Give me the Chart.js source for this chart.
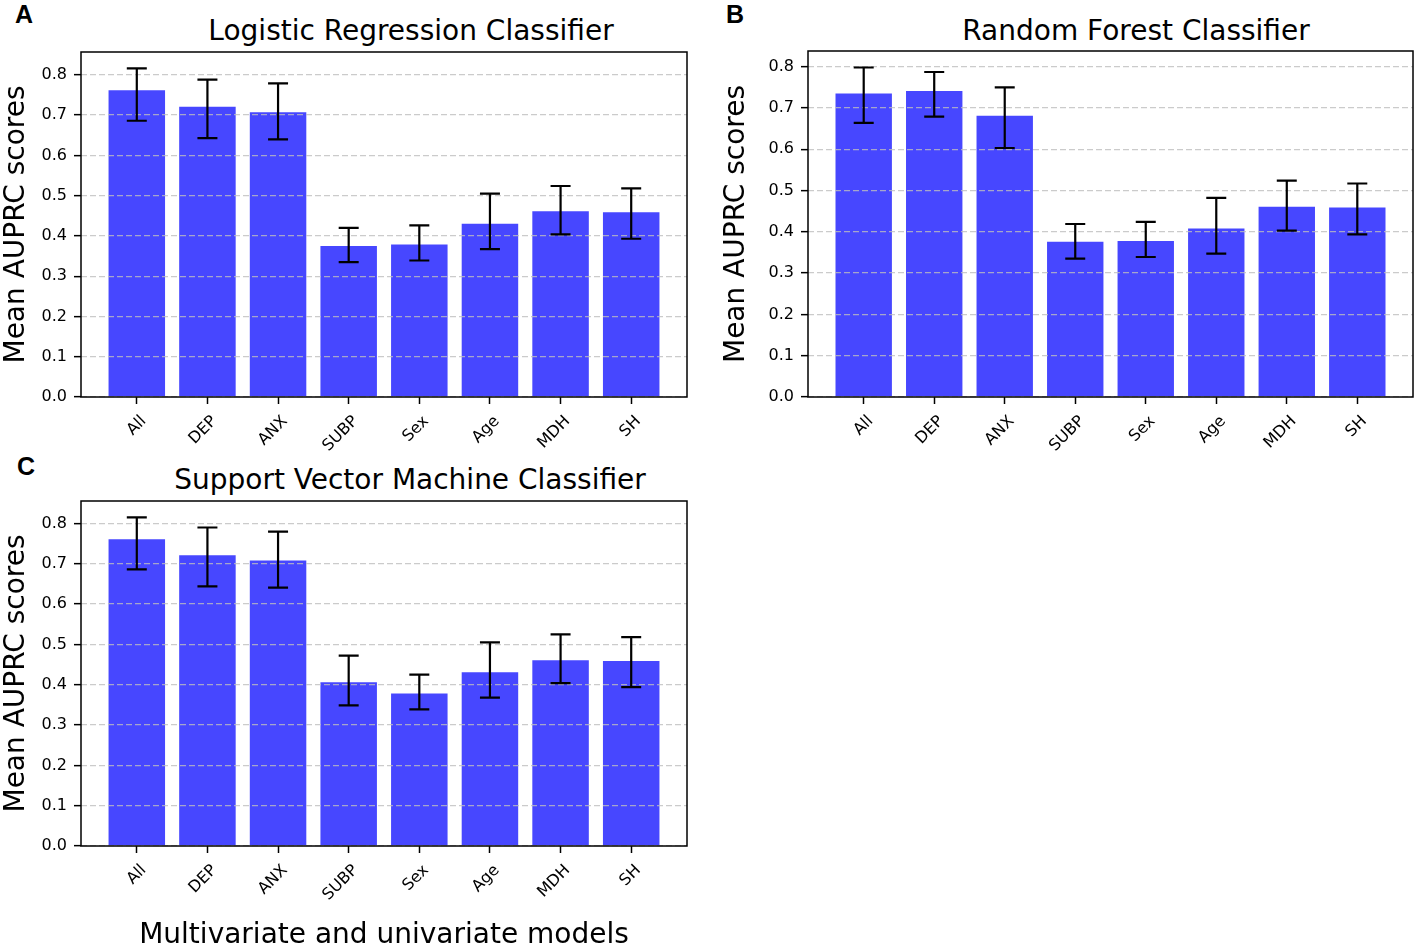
<!DOCTYPE html>
<html>
<head>
<meta charset="utf-8">
<script src="https://cdn.jsdelivr.net/npm/chart.js@4.4.0/dist/chart.umd.min.js"></script>
<style>
  body { margin: 0; background: #fff; }
  #page { position: relative; width: 1417px; height: 948px; overflow: hidden; }
  canvas { position: absolute; }
  .title { position: absolute; font: 28px 'DejaVu Sans'; line-height: 34px; white-space: nowrap; transform: translateX(-50%); color: #000; }
  .tag { position: absolute; font: bold 25px 'Liberation Sans'; line-height: 25px; color: #000; }
</style>
</head>
<body>
<div id="page">
  <div class="tag" style="left:15px; top:2px;">A</div>
  <div class="tag" style="left:726px; top:2px;">B</div>
  <div class="tag" style="left:17px; top:454px;">C</div>
  <div class="title" style="left:411px; top:14px;">Logistic Regression Classifier</div>
  <div class="title" style="left:1136px; top:14px;">Random Forest Classifier</div>
  <div class="title" style="left:410px; top:463px;">Support Vector Machine Classifier</div>
  <canvas id="lr" width="700" height="460" style="left:0; top:0;"></canvas>
  <canvas id="rf" width="697" height="460" style="left:720px; top:0;"></canvas>
  <canvas id="svm" width="700" height="493" style="left:0; top:460px;"></canvas>
</div>
<script>
const models = ['All', 'DEP', 'ANX', 'SUBP', 'Sex', 'Age', 'MDH', 'SH'];
const yTicks = [0, 0.1, 0.2, 0.3, 0.4, 0.5, 0.6, 0.7, 0.8];

// Logistic regression: mean AUPRC and error bar ends
const lrMean = [0.762, 0.721, 0.707, 0.375, 0.379, 0.430, 0.461, 0.459];
const lrLow  = [0.686, 0.643, 0.640, 0.335, 0.339, 0.367, 0.404, 0.393];
const lrHigh = [0.816, 0.788, 0.779, 0.420, 0.426, 0.505, 0.524, 0.518];

// Random forest
const rfMean = [0.735, 0.741, 0.681, 0.376, 0.378, 0.408, 0.461, 0.459];
const rfLow  = [0.664, 0.679, 0.603, 0.335, 0.339, 0.347, 0.403, 0.394];
const rfHigh = [0.798, 0.787, 0.750, 0.419, 0.424, 0.482, 0.524, 0.517];

// Support vector machine
const svmMean = [0.761, 0.721, 0.708, 0.406, 0.378, 0.431, 0.461, 0.459];
const svmLow  = [0.686, 0.644, 0.641, 0.349, 0.339, 0.368, 0.404, 0.394];
const svmHigh = [0.815, 0.790, 0.780, 0.472, 0.425, 0.505, 0.525, 0.518];

const font = 'DejaVu Sans';
const barColor = 'rgba(0, 0, 255, 0.72)';

// error bars + axes frame, drawn on top
const errorBars = (low, high) => ({
  id: 'errorBars',
  afterDraw(chart) {
    const { ctx, chartArea: a, scales: { x, y } } = chart;
    ctx.save();
    ctx.strokeStyle = '#000';
    ctx.lineWidth = 2.2;
    low.forEach((lo, i) => {
      const px = x.getPixelForValue(i);
      const y1 = y.getPixelForValue(lo);
      const y2 = y.getPixelForValue(high[i]);
      ctx.beginPath();
      ctx.moveTo(px, y1); ctx.lineTo(px, y2);
      ctx.moveTo(px - 10, y1); ctx.lineTo(px + 10, y1);
      ctx.moveTo(px - 10, y2); ctx.lineTo(px + 10, y2);
      ctx.stroke();
    });
    ctx.lineWidth = 1.5;
    ctx.strokeRect(a.left, a.top, a.right - a.left, a.bottom - a.top);
    ctx.restore();
  }
});

const makePanel = (id, mean, low, high, lay) => {
  const n = models.length;
  const pad = 0.05 * (n - 1 + 0.8);
  new Chart(document.getElementById(id), {
    type: 'bar',
    data: {
      datasets: [{
        data: mean.map((v, i) => ({ x: i, y: v })),
        backgroundColor: barColor,
        borderWidth: 0,
        barPercentage: 0.8,
        categoryPercentage: 1.0
      }]
    },
    options: {
      responsive: false,
      animation: false,
      layout: { padding: { left: 0, top: lay.top, right: lay.right, bottom: 0 } },
      plugins: { legend: { display: false }, tooltip: { enabled: false } },
      scales: {
        x: {
          type: 'linear',
          offset: false,
          min: -0.4 - pad,
          max: n - 1 + 0.4 + pad,
          afterBuildTicks: (s) => { s.ticks = models.map((_, i) => ({ value: i })); },
          afterFit: (s) => { s.height = lay.xh; },
          ticks: {
            callback: (v) => models[v],
            minRotation: 45, maxRotation: 45,
            autoSkip: false,
            color: '#000',
            padding: 8,
            labelOffset: 7,
            font: { family: font, size: 16 }
          },
          grid: { offset: false, drawOnChartArea: false, tickColor: '#000', tickLength: 7, tickWidth: 1.5 },
          border: { display: false },
          title: {
            display: !!lay.xTitle,
            text: lay.xTitle || '',
            color: '#000',
            padding: 0,
            font: { family: font, size: 28 }
          }
        },
        y: {
          min: 0,
          max: Math.max(...high) * 1.05,
          afterBuildTicks: (s) => { s.ticks = yTicks.map((v) => ({ value: v })); },
          afterFit: (s) => { s.width = lay.yw; },
          ticks: {
            callback: (v) => v.toFixed(1),
            color: '#000',
            padding: 7,
            font: { family: font, size: 16 }
          },
          grid: {
            color: 'rgba(190, 190, 190, 0.8)',
            lineWidth: 1.3,
            z: 1,
            tickColor: '#000',
            tickLength: 7,
            tickWidth: 1.5
          },
          border: { display: false, dash: [6, 3] },
          title: {
            display: true,
            text: 'Mean AUPRC scores',
            color: '#000',
            padding: 0,
            font: { family: font, size: 28 }
          }
        }
      }
    },
    plugins: [errorBars(low, high)]
  });
};

makePanel('lr', lrMean, lrLow, lrHigh, { top: 52, right: 13, xh: 63, yw: 81 });
makePanel('rf', rfMean, rfLow, rfHigh, { top: 51, right: 4, xh: 63, yw: 88 });
makePanel('svm', svmMean, svmLow, svmHigh, { top: 41, right: 13, xh: 107, yw: 81, xTitle: 'Multivariate and univariate models' });
</script>
</body>
</html>
